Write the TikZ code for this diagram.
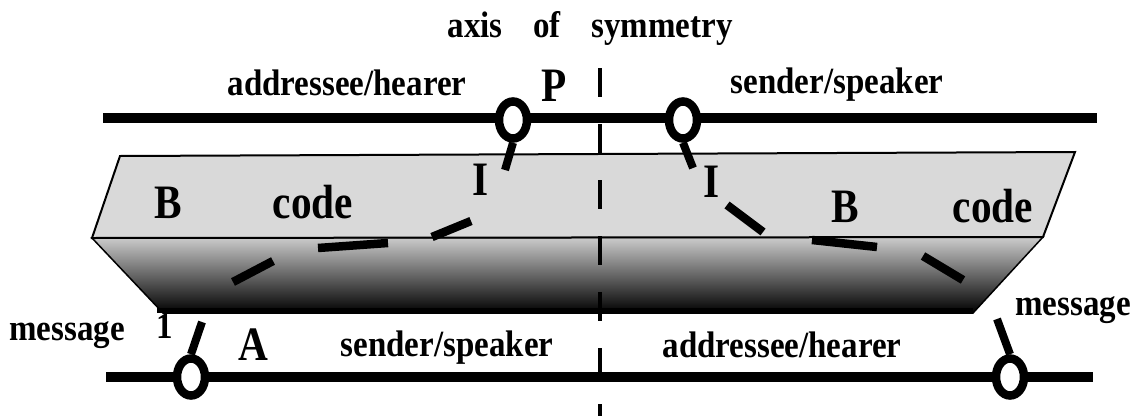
\documentclass[tikz,border=0pt]{standalone}
\usepackage{fontspec}
\setmainfont{Liberation Serif}
\usetikzlibrary{shapes.geometric}
\begin{document}
\begin{tikzpicture}[x=1pt,y=-1pt,
  lbl/.style={font=\fontsize{33}{33}\selectfont\bfseries, inner sep=0pt, anchor=base, yscale=1.12, transform shape},
  big/.style={font=\fontsize{48}{48}\selectfont\bfseries, inner sep=0pt, anchor=base, xscale=0.86, transform shape},
  rail/.style={line width=10pt},
  ring/.style={ellipse, draw, fill=white, line width=8.5pt, minimum width=28pt, minimum height=37pt, inner sep=0pt},
  stem/.style={line width=8pt},
  mdash/.style={line width=8.5pt},
  axisline/.style={line width=3.5pt, dash pattern=on 29pt off 27pt}]
\useasboundingbox (0,0) rectangle (1139,415);
% slab
\coordinate (s1) at (120,156);
\coordinate (s2) at (1075,152);
\coordinate (s3) at (1043,237);
\coordinate (s4) at (92,238);
\coordinate (s5) at (973,313);
\coordinate (s6) at (163,313);
\shade[top color=black!20, bottom color=black, draw=black, line width=1.5pt] (s4) -- (s3) -- (s5) -- (s6) -- cycle;
\fill[black] (s6) ++(-6,-5) rectangle (s5);
\draw[fill=black!15, line width=2pt] (s1) -- (s2) -- (s3) -- (s4) -- cycle;
% axis of symmetry
\coordinate (ax1) at (600,68);
\coordinate (ax2) at (600,420);
\draw[axisline] (ax1) -- (ax2);
% rails
\coordinate (tl) at (103,118);
\coordinate (tr) at (1097,118);
\coordinate (bl) at (106,377);
\coordinate (br) at (1093,377);
\draw[rail] (tl) -- (tr);
\draw[rail] (bl) -- (br);
% rings
\node[ring] (r1) at (513,120) {};
\node[ring] (r2) at (683,120) {};
\node[ring] (r3) at (191,377) {};
\node[ring] (r4) at (1010,377) {};
\coordinate (e1) at (505,170);
\coordinate (e2) at (693,168);
\coordinate (e3) at (202,322);
\coordinate (e4) at (997,319);
\draw[stem] (r1.south) -- (e1);
\draw[stem] (r2.south) -- (e2);
\draw[stem] (r3.north) -- (e3);
\draw[stem] (r4.north) -- (e4);
% message path dashes
\coordinate (m1a) at (233,282); \coordinate (m1b) at (273,261);
\coordinate (m2a) at (318,248); \coordinate (m2b) at (388,243);
\coordinate (m3a) at (432,237); \coordinate (m3b) at (471,221);
\coordinate (m4a) at (727,205); \coordinate (m4b) at (763,232);
\coordinate (m5a) at (812,240); \coordinate (m5b) at (877,247);
\coordinate (m6a) at (923,256); \coordinate (m6b) at (963,280);
\draw[mdash] (m1a) -- (m1b);
\draw[mdash] (m2a) -- (m2b);
\draw[mdash] (m3a) -- (m3b);
\draw[mdash] (m4a) -- (m4b);
\draw[mdash] (m5a) -- (m5b);
\draw[mdash] (m6a) -- (m6b);
% labels
\node[lbl] (axw) at (475,37) {axis};
\node[lbl] (ofw) at (547,37) {of};
\node[lbl] (symw) at (662,37) {symmetry};
\node[lbl] (addrT) at (347,95) {addressee/hearer};
\node[big] (P) at (554,101) {P};
\node[lbl] (sendT) at (837,93) {sender/speaker};
\node[big] (B1) at (168,218) {B};
\node[big] (code1) at (313,218) {code};
\node[big] (I1) at (481,195) {I};
\node[big] (I2) at (712,197) {I};
\node[big] (B2) at (845,222) {B};
\node[big] (code2) at (993,222) {code};
\node[lbl] (msg1) at (67,340) {message};
\node[lbl] (one) at (165,338) {1};
\node[big] (A) at (253,360) {A};
\node[lbl] (sendB) at (447,356) {sender/speaker};
\node[lbl] (addrB) at (782,357) {addressee/hearer};
\node[lbl] (msg2) at (1073,315) {message};
\end{tikzpicture}
\end{document}
